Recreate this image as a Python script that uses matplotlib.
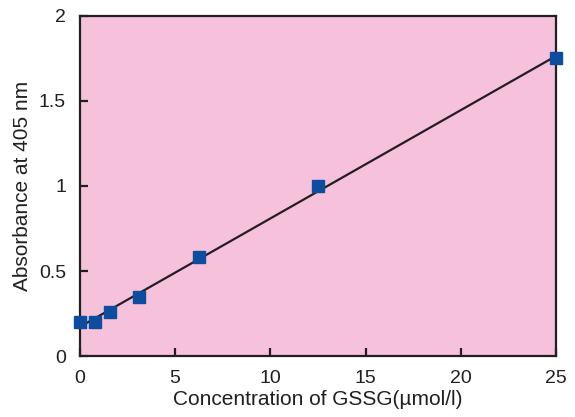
import matplotlib.pyplot as plt
import numpy as np

plt.rcParams['font.family'] = ['Liberation Sans', 'DejaVu Sans']

conc = [0, 0.78, 1.56, 3.125, 6.25, 12.5, 25]
absorb = [0.20, 0.20, 0.26, 0.35, 0.58, 1.00, 1.75]

fit = np.polyfit(conc, absorb, 1)
xs = np.array([0, 25])

fig = plt.figure(figsize=(5.75, 4.17), dpi=100)
ax = fig.add_axes([0.139, 0.146, 0.828, 0.816])
ax.set_facecolor('#F6C1DA')

ax.plot(xs, np.polyval(fit, xs), color='#231F20', linewidth=1.6, zorder=2)
ax.plot(conc, absorb, 's', color='#0D4C9E', markersize=9, clip_on=False, zorder=3)

ax.set_xlim(0, 25)
ax.set_ylim(0, 2)
ax.set_xticks([0, 5, 10, 15, 20, 25])
ax.set_xticklabels(['0', '5', '10', '15', '20', '25'])
ax.set_yticks([0, 0.5, 1, 1.5, 2])
ax.set_yticklabels(['0', '0.5', '1', '1.5', '2'])
ax.tick_params(direction='in', length=6, width=1.6, labelsize=14, colors='#231F20', pad=10)
for s in ax.spines.values():
    s.set_linewidth(1.6)
    s.set_color('#231F20')

ax.set_xlabel('Concentration of GSSG(µmol/l)', fontsize=15, color='#231F20', labelpad=2)
ax.set_ylabel('Absorbance at 405 nm', fontsize=15, color='#231F20', labelpad=5)

fig.savefig('out.png', dpi=100)
